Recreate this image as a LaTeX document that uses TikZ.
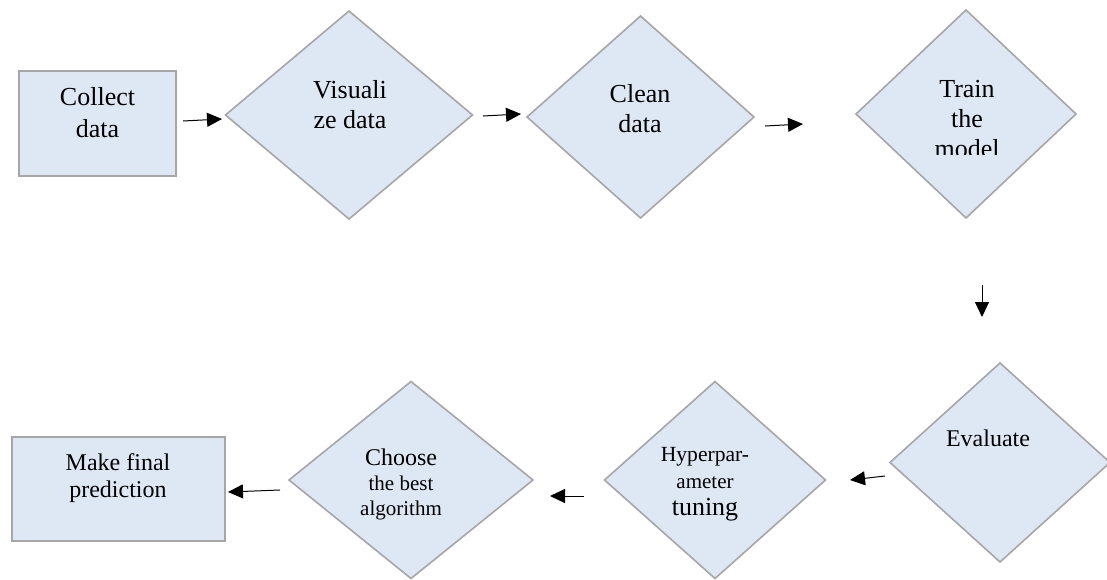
\documentclass[tikz,border=0pt]{standalone}
\usepackage{fontspec}
\setmainfont{Liberation Serif}
\usetikzlibrary{shapes.geometric,arrows.meta}
\definecolor{boxfill}{HTML}{DEE8F4}
\definecolor{boxline}{HTML}{A6A6A6}

\begin{document}
\begin{tikzpicture}[x=1pt,y=-1pt,
 blk/.style={draw=boxline,fill=boxfill,line width=1.6pt,inner sep=0pt,outer sep=0pt},
 dia/.style={blk,diamond},
 txt/.style={align=center,anchor=base,inner sep=0pt,font=\fontsize{26}{30}\selectfont},
 arr/.style={line width=1pt,-{Triangle[length=15pt,width=14pt]}}]
 \useasboundingbox (0,0) rectangle (1107,579);
 % top row
 \node[blk,minimum width=157pt,minimum height=105pt] (collect) at (97.5,123.5) {};
 \node[dia,minimum width=247pt,minimum height=208pt] (visual) at (349,115) {};
 \node[dia,minimum width=227pt,minimum height=202pt] (clean) at (640.5,117) {};
 \node[dia,minimum width=220pt,minimum height=208pt] (train) at (966,114) {};
 \node[txt,font=\fontsize{26}{32}\selectfont] (collectt) at (97.5,137) {Collect\\data};
 \node[txt] (visualt) at (350,128) {Visuali\\ze data};
 \node[txt] (cleant) at (640,132) {Clean\\data};
 \begin{scope}
  \clip (850,0) rectangle (1080,154);
  \node[txt] (traint) at (967,157) {Train\\the\\model};
 \end{scope}
 % bottom row
 \node[dia,minimum width=220pt,minimum height=199pt] (eval) at (1000,462.5) {};
 \node[dia,minimum width=221pt,minimum height=197pt] (hyper) at (715,480) {};
 \node[dia,minimum width=244pt,minimum height=197pt] (choose) at (411,480) {};
 \node[blk,minimum width=213pt,minimum height=104pt] (predict) at (118.5,489) {};
 \node[txt,font=\fontsize{24}{28}\selectfont] (evalt) at (988,446) {Evaluate};
 \node[txt,font=\fontsize{21}{27}\selectfont] (hypert) at (705,515)
  {\fontsize{21.6}{27}\selectfont Hyperpar-\\ameter\\\fontsize{26}{27}\selectfont tuning};
 \node[txt,font=\fontsize{21}{25}\selectfont] (chooset) at (401,515)
  {\fontsize{24}{25}\selectfont Choose\\the best\\algorithm};
 \node[txt,font=\fontsize{24}{27}\selectfont] (predictt) at (118,497) {Make final\\prediction};
 % arrows
 \coordinate (a1s) at (183,121); \coordinate (a1e) at (222,119);
 \coordinate (a2s) at (483,116); \coordinate (a2e) at (521,114);
 \coordinate (a3s) at (765,126); \coordinate (a3e) at (803,124);
 \coordinate (a4s) at (982,285); \coordinate (a4e) at (982,317);
 \coordinate (a5s) at (885,476); \coordinate (a5e) at (850,480);
 \coordinate (a6s) at (584,496); \coordinate (a6e) at (550,496);
 \coordinate (a7s) at (280,490); \coordinate (a7e) at (228,492);
 \draw[arr] (a1s) -- (a1e);
 \draw[arr] (a2s) -- (a2e);
 \draw[arr] (a3s) -- (a3e);
 \draw[arr] (a4s) -- (a4e);
 \draw[arr] (a5s) -- (a5e);
 \draw[arr] (a6s) -- (a6e);
 \draw[arr] (a7s) -- (a7e);
\end{tikzpicture}
\end{document}
